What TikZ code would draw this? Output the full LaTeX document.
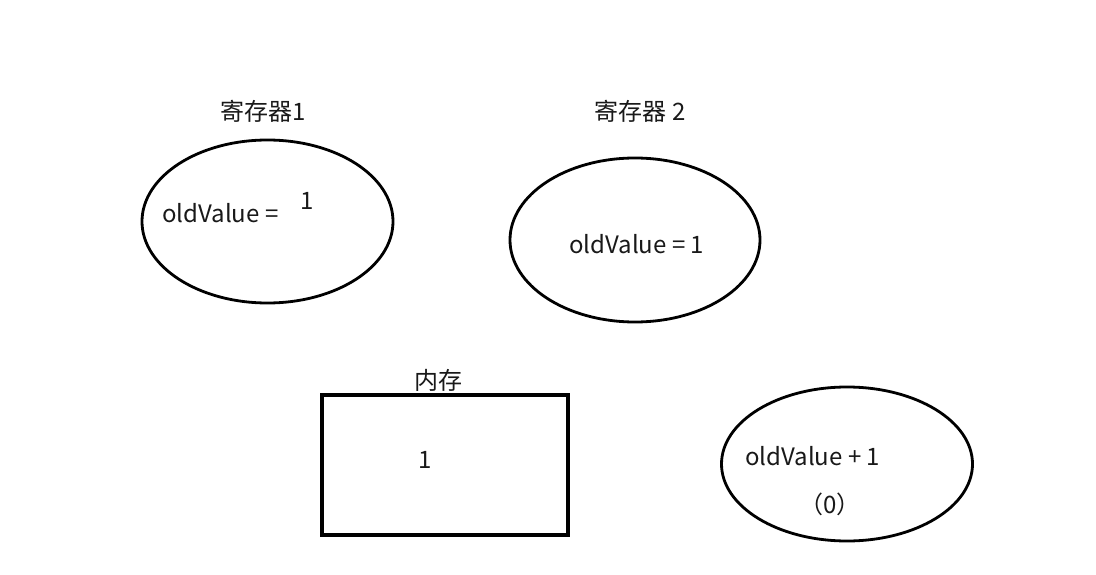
\documentclass[tikz,border=0pt]{standalone}
\usepackage{fontspec}
\setmainfont{Noto Sans CJK SC}
\usetikzlibrary{shapes.geometric}
\begin{document}
\begin{tikzpicture}[x=1pt,y=-1pt,
  txt/.style={font=\fontsize{24}{28}\selectfont, text=black!90, inner sep=0pt},
  shp/.style={draw=black, line width=2.8pt}]
\useasboundingbox (0,0) rectangle (1096,575);
\fill[white] (0,0) rectangle (1096,575);
\node[shp, ellipse, minimum width=251pt, minimum height=163pt, inner sep=0pt] (r1) at (267.5,221.5) {};
\node[shp, ellipse, minimum width=250pt, minimum height=164pt, inner sep=0pt] (r2) at (635,240) {};
\node[shp, ellipse, minimum width=251pt, minimum height=154pt, inner sep=0pt] (r3) at (847,464) {};
\node[draw=black, line width=3.4pt, minimum width=246pt, minimum height=140pt, inner sep=0pt] (mem) at (445,465) {};
\node[txt] (l1) at (263,111) {寄存器1};
\node[txt] (l2) at (640,111) {寄存器 2};
\node[txt] (l3) at (438,380) {内存};
\node[txt, anchor=west] (t1) at (162,213) {oldValue =};
\node[txt] (t1b) at (307,201) {1};
\node[txt, anchor=west] (t2) at (569,244) {oldValue = 1};
\node[txt] (t3) at (425,460) {1};
\node[txt, anchor=west] (t4) at (745,456) {oldValue + 1};
\node[txt] (t5) at (830,504) {（0）};
\end{tikzpicture}
\end{document}
